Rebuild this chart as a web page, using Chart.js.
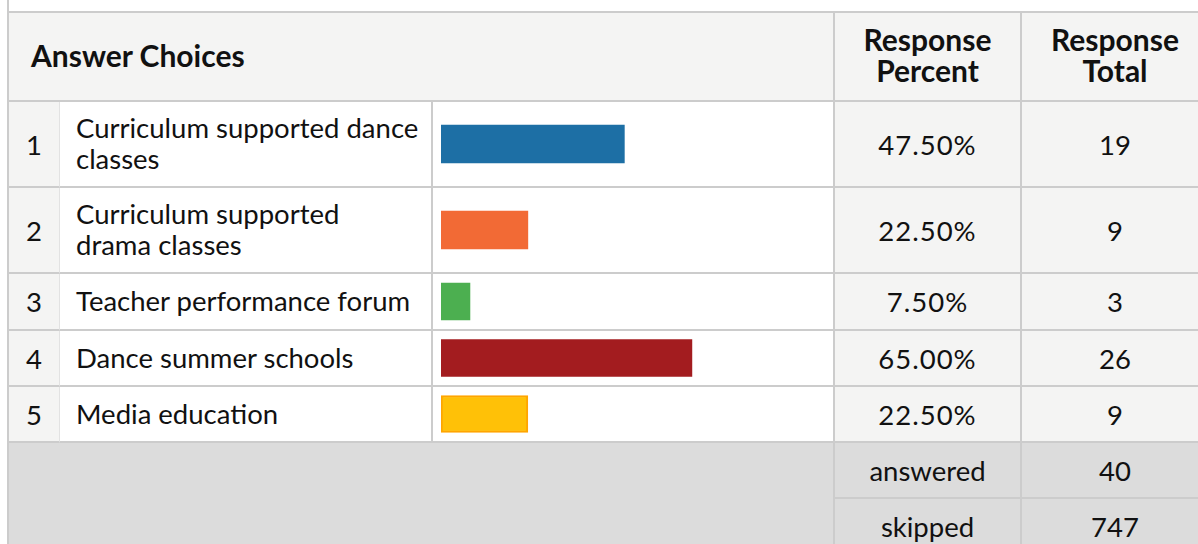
<!DOCTYPE html>
<html>
<head>
<meta charset="utf-8">
<script src="https://cdn.jsdelivr.net/npm/chart.js@4.4.1/dist/chart.umd.min.js"></script>
<style>
	html, body { margin: 0; padding: 0; background: #fff; }
	body { width: 1198px; height: 544px; overflow: hidden; position: relative; font-family: Lato, "Open Sans", sans-serif; color: #111; }
	.survey {
		position: absolute; left: 7px; top: 0;
		border-left: 2px solid #ccc;
		padding-top: 11px;
	}
	.grid {
		display: grid;
		grid-template-columns: 51px 373px 402px 187px 188px;
		grid-template-rows: 89px 86px 86px 57px 56px 56px 56px 56px;
		border-top: 2px solid #ccc;
	}
	.grid > div {
		box-sizing: border-box;
		border-right: 2px solid #ccc;
		border-bottom: 2px solid #ccc;
		display: flex; align-items: center;
		font-size: 27.5px; line-height: 31px;
		position: relative;
	}
	.head { background: #f4f4f3; font-weight: bold; font-size: 30px !important; padding-bottom: 3px; }
	.head.choices { grid-column: 1 / 4; padding-left: 22px; }
	.head.num { justify-content: center; text-align: center; }
	.idx { background: #f4f4f3; justify-content: center; border-right: 1px solid #e2e2e2 !important; }
	.label { background: #fff; padding-left: 16px; padding-bottom: 2px; }
	.bar { background: #fff; }
	.bar canvas { position: absolute; left: 0; top: 0; }
	.val { background: #f4f4f3; justify-content: center; }
	.val.pct { letter-spacing: 1px; }
	.foot { background: #dcdcdc; }
	.foot.blank { grid-column: 1 / 4; grid-row: 7 / 9; }
	.foot.val { justify-content: center; }
</style>
</head>
<body>
<div class="survey"><div class="grid" id="grid"></div></div>
<script>
// survey results (multi-line labels as arrays, like chart.js labels)
const choices = [
	["Curriculum supported dance", "classes"],
	["Curriculum supported", "drama classes"],
	["Teacher performance forum"],
	["Dance summer schools"],
	["Media education"]
];
const percents = [47.5, 22.5, 7.5, 65.0, 22.5];
const totals = [19, 9, 3, 26, 9];
const barColors = ["#1d6fa5", "#f26a35", "#4caf50", "#a31c1f", "#ffc107"];
const barBorders = [null, null, null, null, "#ffa500"];
const answered = 40;
const skipped = 747;

const grid = document.getElementById("grid");

const cell = (cls, html) => {
	const el = document.createElement("div");
	el.className = cls;
	if (html !== undefined) el.innerHTML = html;
	grid.appendChild(el);
	return el;
};

cell("head choices", "Answer Choices");
cell("head num", "Response<br>Percent");
cell("head num", "Response<br>Total");

const barCells = [];
choices.forEach((lines, i) => {
	cell("idx", String(i + 1));
	cell("label", "<span>" + lines.join("<br>") + "</span>");
	barCells.push(cell("bar"));
	cell("val pct", percents[i].toFixed(2) + "%");
	cell("val", String(totals[i]));
});

cell("foot blank");
cell("foot val", "answered");
cell("foot val", String(answered));
cell("foot val", "skipped");
cell("foot val", String(skipped));

// one small horizontal bar chart per answer row
barCells.forEach((el, i) => {
	const canvas = document.createElement("canvas");
	const w = el.clientWidth;
	const h = el.clientHeight;
	canvas.width = w;
	canvas.height = h;
	canvas.style.width = w + "px";
	canvas.style.height = h + "px";
	el.appendChild(canvas);

	new Chart(canvas, {
		type: "bar",
		data: {
			labels: [choices[i].join(" ")],
			datasets: [{
				data: [percents[i]],
				backgroundColor: barColors[i],
				borderColor: barBorders[i] || barColors[i],
				borderWidth: barBorders[i] ? 2 : 0,
				borderSkipped: false,
				barThickness: i < 2 ? 38 : 37
			}]
		},
		options: {
			indexAxis: "y",
			responsive: false,
			animation: false,
			layout: { padding: { left: 8, right: 6, top: 0, bottom: 0 } },
			plugins: { legend: { display: false }, tooltip: { enabled: false } },
			scales: {
				x: { display: false, min: 0, max: 100 },
				y: { display: false }
			}
		}
	});
});
</script>
</body>
</html>
